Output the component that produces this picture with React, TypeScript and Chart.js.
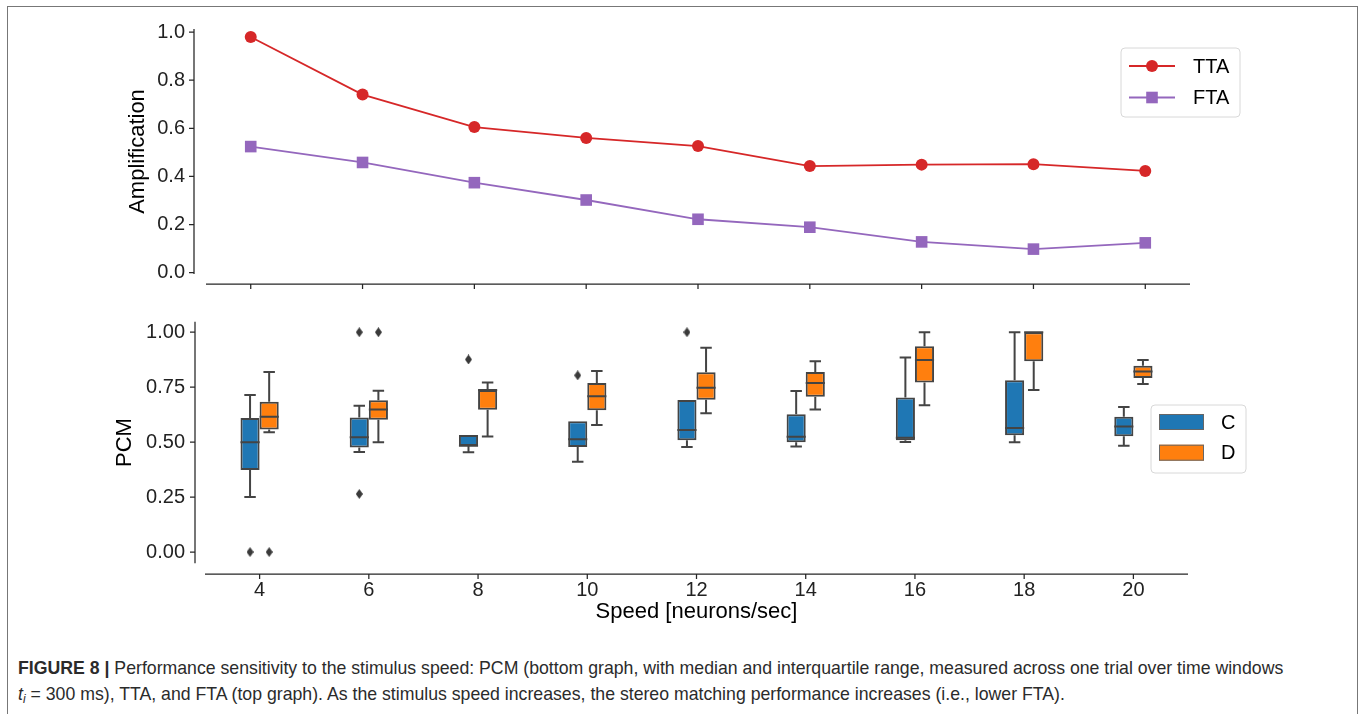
import React, { useEffect, useRef } from "react";
import { Chart, registerables } from "chart.js";

Chart.register(...registerables);

const FONT = "'Liberation Sans', Arial, Helvetica, sans-serif";
Chart.defaults.font.family = FONT;
Chart.defaults.color = "#222";

// ---------- data ----------
const SPEEDS = [4, 6, 8, 10, 12, 14, 16, 18, 20];
const X_TICKS = [4, 6, 8, 10, 12, 14, 16, 18, 20];
const TTA = [0.979, 0.74, 0.605, 0.56, 0.526, 0.443, 0.449, 0.451, 0.423];
const FTA = [0.524, 0.458, 0.374, 0.302, 0.222, 0.189, 0.128, 0.098, 0.124];
const AMP_TICKS = [0, 0.2, 0.4, 0.6, 0.8, 1.0];
const PCM_TICKS = [0, 0.25, 0.5, 0.75, 1.0];

const C_LOW = [0.25, 0.455, 0.454, 0.411, 0.478, 0.48, 0.501, 0.5, 0.483];
const C_Q1 = [0.373, 0.476, 0.482, 0.478, 0.508, 0.499, 0.508, 0.531, 0.527];
const C_MED = [0.5, 0.522, 0.483, 0.513, 0.555, 0.524, 0.52, 0.564, 0.571];
const C_Q3 = [0.61, 0.612, 0.532, 0.595, 0.692, 0.627, 0.703, 0.781, 0.616];
const C_HIGH = [0.715, 0.666, 0.532, 0.595, 0.692, 0.733, 0.885, 1.0, 0.66];
const C_OUTLIERS: [number, number][] = [[4, 0], [6, 1.0], [6, 0.264], [8, 0.876], [10, 0.804], [12, 1.0]];

const D_LOW = [0.545, 0.5, 0.526, 0.578, 0.631, 0.648, 0.668, 0.737, 0.765];
const D_Q1 = [0.558, 0.602, 0.647, 0.645, 0.693, 0.707, 0.771, 0.868, 0.792];
const D_MED = [0.616, 0.649, 0.737, 0.709, 0.747, 0.769, 0.874, 1.0, 0.821];
const D_Q3 = [0.684, 0.69, 0.737, 0.769, 0.818, 0.819, 0.936, 1.0, 0.847];
const D_HIGH = [0.819, 0.734, 0.771, 0.824, 0.929, 0.868, 1.0, 1.0, 0.874];
const D_OUTLIERS: [number, number][] = [[4, 0], [6, 1.0]];

// ---------- styles ----------
const RED = "#d62728";
const PURPLE = "#9467bd";
const BLUE = "#1f77b4";
const ORANGE = "#ff7f0e";
const EDGE = "#444444";
const SPINE = "#262626";
const GROUP = 0.35; // fraction of a category used by the pair of boxes
const STEP = 2; // spacing between speeds

const ticksFrom = (vals: number[]) => (scale: any) => {
  scale.ticks = vals.map((v) => ({ value: v }));
};

function spinePlugin(xOff: number, yOff: number) {
  return {
    id: "spines",
    afterDraw(chart: any) {
      const { ctx, chartArea: a, scales } = chart;
      const tick = 5;
      ctx.save();
      ctx.strokeStyle = SPINE;
      ctx.lineWidth = 1.25;
      ctx.beginPath();
      const sx = a.left - yOff;
      const sy = a.bottom + xOff;
      ctx.moveTo(sx, a.top);
      ctx.lineTo(sx, a.bottom);
      ctx.moveTo(a.left, sy);
      ctx.lineTo(a.right, sy);
      for (const t of scales.y.ticks) {
        const p = scales.y.getPixelForValue(t.value);
        ctx.moveTo(sx, p);
        ctx.lineTo(sx - tick, p);
      }
      for (const t of scales.x.ticks) {
        const p = scales.x.getPixelForValue(t.value);
        ctx.moveTo(p, sy);
        ctx.lineTo(p, sy + tick);
      }
      ctx.stroke();
      ctx.restore();
    },
  };
}

function legendBox(ctx: CanvasRenderingContext2D, x: number, y: number, w: number, h: number) {
  ctx.save();
  ctx.beginPath();
  const r = 4;
  ctx.moveTo(x + r, y);
  ctx.arcTo(x + w, y, x + w, y + h, r);
  ctx.arcTo(x + w, y + h, x, y + h, r);
  ctx.arcTo(x, y + h, x, y, r);
  ctx.arcTo(x, y, x + w, y, r);
  ctx.closePath();
  ctx.fillStyle = "rgba(255,255,255,0.8)";
  ctx.fill();
  ctx.strokeStyle = "#d8d8d8";
  ctx.lineWidth = 1;
  ctx.stroke();
  ctx.restore();
}

const lineLegend = {
  id: "lineLegend",
  afterDraw(chart: any) {
    const ctx = chart.ctx as CanvasRenderingContext2D;
    legendBox(ctx, 1121, 48, 119, 69);
    chart.data.datasets.forEach((ds: any, i: number) => {
      const cy = 66 + i * 31.5;
      ctx.save();
      ctx.strokeStyle = ds.borderColor;
      ctx.lineWidth = ds.borderWidth;
      ctx.beginPath();
      ctx.moveTo(1129, cy);
      ctx.lineTo(1175, cy);
      ctx.stroke();
      ctx.fillStyle = ds.backgroundColor;
      if (ds.pointStyle === "rect") {
        const s = ds.pointRadius * Math.SQRT1_2;
        ctx.fillRect(1152 - s, cy - s, 2 * s, 2 * s);
      } else {
        ctx.beginPath();
        ctx.arc(1152, cy, ds.pointRadius, 0, Math.PI * 2);
        ctx.fill();
      }
      ctx.fillStyle = "#000";
      ctx.font = `20px ${FONT}`;
      ctx.textBaseline = "middle";
      ctx.textAlign = "left";
      ctx.fillText(ds.label, 1193, cy + 1);
      ctx.restore();
    });
  },
};

const boxLegend = {
  id: "boxLegend",
  afterDraw(chart: any) {
    const ctx = chart.ctx as CanvasRenderingContext2D;
    legendBox(ctx, 1151, 105, 95, 68);
    chart.data.datasets
      .filter((ds: any) => ds.type === "bar")
      .forEach((ds: any, i: number) => {
        const cy = 122 + i * 30.7;
        ctx.save();
        ctx.fillStyle = ds.backgroundColor;
        ctx.fillRect(1159, cy - 8, 45, 16);
        ctx.strokeStyle = "#666";
        ctx.lineWidth = 1;
        ctx.strokeRect(1159.5, cy - 7.5, 44, 15);
        ctx.fillStyle = "#000";
        ctx.font = `20px ${FONT}`;
        ctx.textBaseline = "middle";
        ctx.textAlign = "left";
        ctx.fillText(ds.label, 1221, cy + 1);
        ctx.restore();
      });
  },
};

const whiskerPlugin = {
  id: "whiskers",
  afterDatasetsDraw(chart: any) {
    const ctx = chart.ctx as CanvasRenderingContext2D;
    const ys = chart.scales.y;
    chart.data.datasets.forEach((ds: any, di: number) => {
      if (ds.type !== "bar") return;
      const meta = chart.getDatasetMeta(di);
      const st = ds.stats;
      meta.data.forEach((el: any, j: number) => {
        const x = el.x;
        const w = el.width;
        const cap = w * 0.3;
        const yLow = ys.getPixelForValue(st.low[j]);
        const yQ1 = ys.getPixelForValue(st.q1[j]);
        const yMed = ys.getPixelForValue(st.med[j]);
        const yQ3 = ys.getPixelForValue(st.q3[j]);
        const yHigh = ys.getPixelForValue(st.high[j]);
        ctx.save();
        ctx.strokeStyle = EDGE;
        ctx.lineWidth = 2;
        ctx.beginPath();
        if (yHigh < yQ3 - 0.5) {
          ctx.moveTo(x, yQ3);
          ctx.lineTo(x, yHigh);
          ctx.moveTo(x - cap, yHigh);
          ctx.lineTo(x + cap, yHigh);
        }
        if (yLow > yQ1 + 0.5) {
          ctx.moveTo(x, yQ1);
          ctx.lineTo(x, yLow);
          ctx.moveTo(x - cap, yLow);
          ctx.lineTo(x + cap, yLow);
        }
        ctx.moveTo(x - w / 2, yMed);
        ctx.lineTo(x + w / 2, yMed);
        ctx.stroke();
        ctx.restore();
      });
    });
  },
};

export default function App() {
  const topRef = useRef<HTMLCanvasElement>(null);
  const botRef = useRef<HTMLCanvasElement>(null);

  useEffect(() => {
    const top = new Chart(topRef.current!, {
      type: "line",
      data: {
        datasets: [
          {
            label: "TTA",
            data: SPEEDS.map((x, i) => ({ x, y: TTA[i] })),
            borderColor: RED,
            backgroundColor: RED,
            borderWidth: 1.8,
            pointStyle: "circle",
            pointRadius: 6,
            pointBorderWidth: 0,
          },
          {
            label: "FTA",
            data: SPEEDS.map((x, i) => ({ x, y: FTA[i] })),
            borderColor: PURPLE,
            backgroundColor: PURPLE,
            borderWidth: 1.8,
            pointStyle: "rect",
            pointRadius: 8.2,
            pointBorderWidth: 0,
          },
        ] as any,
      },
      options: {
        animation: false,
        responsive: false,
        devicePixelRatio: 1,
        layout: { padding: { left: 118, right: 170, top: 29, bottom: 0 } },
        plugins: { legend: { display: false }, tooltip: { enabled: false } },
        scales: {
          x: {
            type: "linear",
            min: 3.2,
            max: 20.8,
            afterBuildTicks: ticksFrom(X_TICKS),
            ticks: { display: false, padding: 0 },
            grid: { display: false, drawTicks: false },
            border: { display: false },
            afterFit: (s: any) => {
              s.height = 26;
            },
          },
          y: {
            type: "linear",
            min: -0.0054,
            max: 1.0125,
            afterBuildTicks: ticksFrom(AMP_TICKS),
            ticks: {
              padding: 0,
              font: { size: 20 },
              color: "#222",
              callback: (v: any) => Number(v).toFixed(1),
            },
            grid: { display: false, drawTicks: true, tickLength: 21 },
            border: { display: false },
            title: {
              display: true,
              text: "Amplification",
              font: { size: 22 },
              color: "#000",
              padding: { top: 7, bottom: 0 },
            },
            afterFit: (s: any) => {
              s.width = 88;
            },
          },
        },
      } as any,
      plugins: [spinePlugin(10, 12), lineLegend],
    });

    const diamond = document.createElement("canvas");
    diamond.width = 7;
    diamond.height = 10;
    const dctx = diamond.getContext("2d")!;
    dctx.fillStyle = "#3a3a3a";
    dctx.beginPath();
    dctx.moveTo(3.5, 0);
    dctx.lineTo(7, 5);
    dctx.lineTo(3.5, 10);
    dctx.lineTo(0, 5);
    dctx.closePath();
    dctx.fill();

    const boxStats = [
      { label: "C", color: BLUE, low: C_LOW, q1: C_Q1, med: C_MED, q3: C_Q3, high: C_HIGH, out: C_OUTLIERS },
      { label: "D", color: ORANGE, low: D_LOW, q1: D_Q1, med: D_MED, q3: D_Q3, high: D_HIGH, out: D_OUTLIERS },
    ];
    const hueShift = (GROUP * STEP) / 4;

    const bottom = new Chart(botRef.current!, {
      type: "bar",
      data: {
        datasets: [
          ...boxStats.map((s) => ({
            type: "bar",
            label: s.label,
            data: SPEEDS.map((x, i) => ({ x, y: [s.q1[i], s.q3[i]] })),
            backgroundColor: s.color,
            borderColor: EDGE,
            borderWidth: 2,
            borderSkipped: false,
            categoryPercentage: GROUP,
            barPercentage: 1,
            stats: s,
          })),
          ...boxStats.map((s, k) => ({
            type: "scatter",
            label: s.label + " outliers",
            data: s.out.map(([x, y]) => ({ x: x + (k === 0 ? -hueShift : hueShift), y })),
            pointStyle: diamond,
            pointRadius: 4,
            backgroundColor: "#3a3a3a",
            borderColor: "#3a3a3a",
          })),
        ] as any,
      },
      options: {
        animation: false,
        responsive: false,
        devicePixelRatio: 1,
        layout: { padding: { left: 105, right: 172, top: 21.7, bottom: 14.7 } },
        plugins: { legend: { display: false }, tooltip: { enabled: false } },
        scales: {
          x: {
            type: "linear",
            min: 3,
            max: 21,
            offset: false,
            afterBuildTicks: ticksFrom(X_TICKS),
            ticks: {
              padding: 0,
              font: { size: 20 },
              color: "#222",
              maxRotation: 0,
              autoSkip: false,
              callback: (v: any) => String(v),
            },
            grid: { display: false, drawTicks: true, tickLength: 14.7, offset: false },
            border: { display: false },
            title: {
              display: true,
              text: "Speed [neurons/sec]",
              font: { size: 22 },
              color: "#000",
              padding: { top: 0, bottom: 0 },
            },
            afterFit: (s: any) => {
              s.height = 62;
            },
          },
          y: {
            type: "linear",
            min: -0.0514,
            max: 1.048,
            afterBuildTicks: ticksFrom(PCM_TICKS),
            ticks: {
              padding: 0,
              font: { size: 20 },
              color: "#222",
              callback: (v: any) => Number(v).toFixed(2),
            },
            grid: { display: false, drawTicks: true, tickLength: 20 },
            border: { display: false },
            title: {
              display: true,
              text: "PCM",
              font: { size: 22 },
              color: "#000",
              padding: { top: 7, bottom: 0 },
            },
            afterFit: (s: any) => {
              s.width = 100;
            },
          },
        },
      } as any,
      plugins: [spinePlugin(10.7, 10), whiskerPlugin, boxLegend],
    });

    return () => {
      top.destroy();
      bottom.destroy();
    };
  }, []);

  return (
    <div
      style={{
        position: "absolute",
        left: 0,
        top: 0,
        width: 1360,
        height: 714,
        background: "#fff",
        overflow: "hidden",
      }}
    >
      <div
        style={{
          position: "absolute",
          left: 7,
          top: 6,
          width: 1349,
          height: 720,
          border: "1.5px solid #777",
          borderBottom: "none",
        }}
      />
      <canvas ref={topRef} width={1360} height={300} style={{ position: "absolute", left: 0, top: 0 }} />
      <canvas ref={botRef} width={1360} height={340} style={{ position: "absolute", left: 0, top: 300 }} />
      <div
        style={{
          position: "absolute",
          left: 18,
          top: 655,
          fontFamily: FONT,
          fontSize: 17.7,
          lineHeight: "26px",
          color: "#2b2b2b",
          whiteSpace: "nowrap",
        }}
      >
        <b>FIGURE 8 |</b> Performance sensitivity to the stimulus speed: PCM (bottom graph, with median and
        interquartile range, measured across one trial over time windows
        <br />
        <i>t</i>
        <sub style={{ fontSize: 12, lineHeight: 0, verticalAlign: "-3px" }}>
          <i>i</i>
        </sub>{" "}
        = 300 ms), TTA, and FTA (top graph). As the stimulus speed increases, the stereo matching performance
        increases (i.e., lower FTA).
      </div>
    </div>
  );
}
